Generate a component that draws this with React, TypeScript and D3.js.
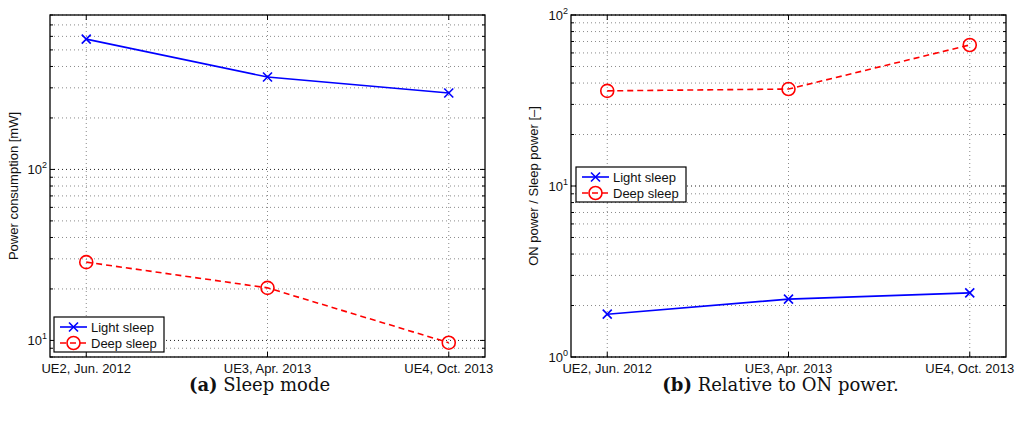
import React, { useRef, useEffect } from "react";
import * as d3 from "d3";

const categories = ["UE2, Jun. 2012", "UE3, Apr. 2013", "UE4, Oct. 2013"];
const legendLabels = ["Light sleep", "Deep sleep"];
// panel (a): power consumption in mW
const powerLight = [578, 347, 280];
const powerDeep = [28.7, 20.3, 9.7];
// panel (b): ON power / sleep power
const ratioLight = [1.78, 2.18, 2.37];
const ratioDeep = [36, 36.9, 66.8];

const FONT = "'Liberation Sans', Arial, Helvetica, sans-serif";

interface PanelProps {
  left: number;
  light: number[];
  deep: number[];
  yDomain: [number, number];
  yLabel: string;
  yLabelX: number;
  legendPos: [number, number];
  caption: [string, string];
}

const W = 435;
const TOP = 15;
const H = 342;

function drawPanel(svg: d3.Selection<SVGSVGElement, unknown, null, undefined>, p: PanelProps) {
  const g = svg.append("g").attr("transform", `translate(${p.left},${TOP})`);

  const x = d3.scaleLinear().domain([0.8, 3.2]).range([0, W]);
  const y = d3.scaleLog().domain(p.yDomain).range([H, 0]);

  const [lo, hi] = p.yDomain;
  const majors: number[] = [];
  const minors: number[] = [];
  for (let e = Math.floor(Math.log10(lo)); e <= Math.ceil(Math.log10(hi)); e++) {
    const base = Math.pow(10, e);
    for (let k = 1; k < 10; k++) {
      const v = k * base;
      if (v < lo * 0.999 || v > hi * 1.001) continue;
      (k === 1 ? majors : minors).push(v);
    }
  }

  // grid
  g.selectAll(".minor-grid")
    .data(minors)
    .join("line")
    .attr("x1", 0)
    .attr("x2", W)
    .attr("y1", (d) => y(d))
    .attr("y2", (d) => y(d))
    .attr("stroke", "#8a8a8a")
    .attr("stroke-width", 1)
    .attr("stroke-dasharray", "1,3");
  g.selectAll(".major-grid")
    .data(majors)
    .join("line")
    .attr("x1", 0)
    .attr("x2", W)
    .attr("y1", (d) => y(d))
    .attr("y2", (d) => y(d))
    .attr("stroke", "#222")
    .attr("stroke-width", 1)
    .attr("stroke-dasharray", "1,3");
  g.selectAll(".x-grid")
    .data(categories)
    .join("line")
    .attr("x1", (_, i) => x(i + 1))
    .attr("x2", (_, i) => x(i + 1))
    .attr("y1", 0)
    .attr("y2", H)
    .attr("stroke", "#8a8a8a")
    .attr("stroke-width", 1)
    .attr("stroke-dasharray", "1,3");

  // ticks on all four sides
  const tickLines: [number, number, number, number][] = [];
  majors.forEach((v) => {
    tickLines.push([0, y(v), 5, y(v)]);
    tickLines.push([W, y(v), W - 5, y(v)]);
  });
  minors.forEach((v) => {
    tickLines.push([0, y(v), 3, y(v)]);
    tickLines.push([W, y(v), W - 3, y(v)]);
  });
  categories.forEach((_, i) => {
    tickLines.push([x(i + 1), H, x(i + 1), H - 5]);
    tickLines.push([x(i + 1), 0, x(i + 1), 5]);
  });
  g.selectAll(".tick")
    .data(tickLines)
    .join("line")
    .attr("x1", (d) => d[0])
    .attr("y1", (d) => d[1])
    .attr("x2", (d) => d[2])
    .attr("y2", (d) => d[3])
    .attr("stroke", "#000")
    .attr("stroke-width", 1);

  g.append("rect")
    .attr("width", W)
    .attr("height", H)
    .attr("fill", "none")
    .attr("stroke", "#000")
    .attr("stroke-width", 1.3);

  // tick labels
  g.selectAll(".xlab")
    .data(categories)
    .join("text")
    .attr("x", (_, i) => x(i + 1))
    .attr("y", H + 16)
    .attr("text-anchor", "middle")
    .attr("font-family", FONT)
    .attr("font-size", 13)
    .attr("fill", "#111")
    .text((d) => d);

  majors.forEach((v) => {
    const t = g
      .append("text")
      .attr("x", -3)
      .attr("y", y(v) + 5)
      .attr("text-anchor", "end")
      .attr("font-family", FONT)
      .attr("font-size", 13)
      .attr("fill", "#111");
    t.append("tspan").text("10");
    t.append("tspan")
      .attr("dy", -6)
      .attr("font-size", 9)
      .text(String(Math.round(Math.log10(v))));
  });

  svg
    .append("text")
    .attr("transform", `translate(${p.yLabelX},${TOP + H / 2}) rotate(-90)`)
    .attr("text-anchor", "middle")
    .attr("dominant-baseline", "middle")
    .attr("font-family", FONT)
    .attr("font-size", 13)
    .attr("fill", "#111")
    .text(p.yLabel);

  // series
  const line = d3
    .line<number>()
    .x((_, i) => x(i + 1))
    .y((d) => y(d));

  g.append("path")
    .attr("d", line(p.light))
    .attr("fill", "none")
    .attr("stroke", "#0000ff")
    .attr("stroke-width", 1.6);
  g.append("path")
    .attr("d", line(p.deep))
    .attr("fill", "none")
    .attr("stroke", "#ff0000")
    .attr("stroke-width", 1.6)
    .attr("stroke-dasharray", "6,4");

  const cross = (sel: d3.Selection<SVGGElement, unknown, null, undefined>, cx: number, cy: number) => {
    const s = 4.5;
    sel.append("line").attr("x1", cx - s).attr("y1", cy - s).attr("x2", cx + s).attr("y2", cy + s);
    sel.append("line").attr("x1", cx - s).attr("y1", cy + s).attr("x2", cx + s).attr("y2", cy - s);
  };

  const marks = g.append("g").attr("stroke", "#0000ff").attr("stroke-width", 1.6);
  p.light.forEach((v, i) => cross(marks, x(i + 1), y(v)));
  g.append("g")
    .selectAll("circle")
    .data(p.deep)
    .join("circle")
    .attr("cx", (_, i) => x(i + 1))
    .attr("cy", (d) => y(d))
    .attr("r", 6.5)
    .attr("fill", "none")
    .attr("stroke", "#ff0000")
    .attr("stroke-width", 1.6);

  // legend
  const [lx, ly] = p.legendPos;
  const lg = svg.append("g").attr("transform", `translate(${lx},${ly})`);
  lg.append("rect")
    .attr("width", 110)
    .attr("height", 35)
    .attr("fill", "#fff")
    .attr("stroke", "#000")
    .attr("stroke-width", 1.2);
  legendLabels.forEach((lab, i) => {
    const cy = 10 + i * 16;
    const isLight = i === 0;
    const color = isLight ? "#0000ff" : "#ff0000";
    lg.append("line")
      .attr("x1", 6)
      .attr("x2", 33)
      .attr("y1", cy)
      .attr("y2", cy)
      .attr("stroke", color)
      .attr("stroke-width", 1.6)
      .attr("stroke-dasharray", isLight ? null : "6,4");
    if (isLight) {
      const mg = lg.append("g").attr("stroke", color).attr("stroke-width", 1.6);
      cross(mg, 19.5, cy);
    } else {
      lg.append("circle")
        .attr("cx", 19.5)
        .attr("cy", cy)
        .attr("r", 6.5)
        .attr("fill", "none")
        .attr("stroke", color)
        .attr("stroke-width", 1.6);
    }
    lg.append("text")
      .attr("x", 37)
      .attr("y", cy + 4.5)
      .attr("font-family", FONT)
      .attr("font-size", 13)
      .attr("fill", "#111")
      .text(lab);
  });

  // caption
  const cap = svg
    .append("text")
    .attr("x", p.left + W / 2 - 8)
    .attr("y", 391)
    .attr("text-anchor", "middle")
    .attr("font-family", "'DejaVu Serif', serif")
    .attr("font-size", 18)
    .attr("fill", "#111");
  cap.append("tspan").attr("font-weight", "bold").text(p.caption[0]);
  cap.append("tspan").text(" " + p.caption[1]);
}

const App: React.FC = () => {
  const svgRef = useRef<SVGSVGElement | null>(null);

  useEffect(() => {
    if (!svgRef.current) return;
    const svg = d3.select(svgRef.current);
    svg.selectAll("*").remove(); // clear before redraw

    drawPanel(svg, {
      left: 50,
      light: powerLight,
      deep: powerDeep,
      yDomain: [8, 800],
      yLabel: "Power consumption [mW]",
      yLabelX: 15,
      legendPos: [54, 317],
      caption: ["(a)", "Sleep mode"],
    });
    drawPanel(svg, {
      left: 571,
      light: ratioLight,
      deep: ratioDeep,
      yDomain: [1, 100],
      yLabel: "ON power / Sleep power [\u2013]",
      yLabelX: 535,
      legendPos: [576, 167],
      caption: ["(b)", "Relative to ON power."],
    });
  }, []);

  return (
    <svg
      ref={svgRef}
      width={1023}
      height={421}
      style={{ position: "absolute", left: 0, top: 0, background: "#fff" }}
    ></svg>
  );
};

export default App;
